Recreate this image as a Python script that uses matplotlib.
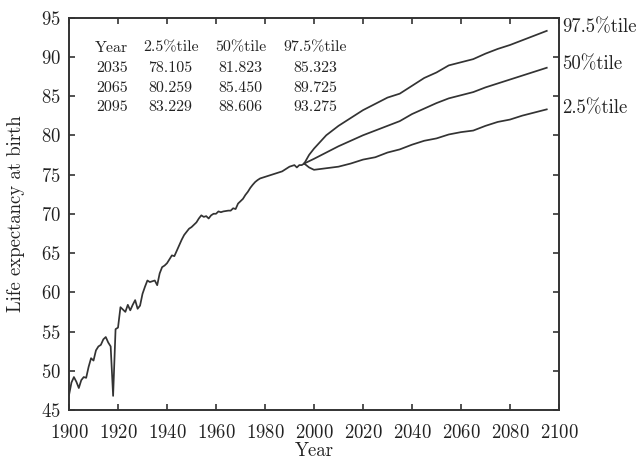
import matplotlib
matplotlib.use("Agg")
import matplotlib.pyplot as plt

plt.rcParams['font.family'] = ['cmr10', 'DejaVu Serif']
plt.rcParams['mathtext.fontset'] = 'cm'
plt.rcParams['axes.formatter.use_mathtext'] = True

# Historical life expectancy at birth
hist_years = list(range(1900, 1997))
hist_values = [46.9, 48.5, 49.2, 48.6, 47.8, 48.8, 49.2, 49.1, 50.5, 51.6,
               51.3, 52.6, 53.1, 53.3, 54.0, 54.3, 53.6, 53.1, 46.8, 55.3,
               55.5, 58.1, 57.8, 57.5, 58.4, 57.7, 58.4, 59.0, 57.9, 58.3,
               59.8, 60.7, 61.5, 61.3, 61.4, 61.5, 60.9, 62.4, 63.2, 63.4,
               63.7, 64.2, 64.7, 64.6, 65.3, 66.0, 66.7, 67.3, 67.7, 68.1,
               68.3, 68.6, 68.9, 69.4, 69.8, 69.6, 69.7, 69.4, 69.8, 70.0,
               70.0, 70.3, 70.2, 70.3, 70.35, 70.4, 70.4, 70.7, 70.6, 71.3,
               71.6, 71.9, 72.4, 72.8, 73.3, 73.7, 74.05, 74.3, 74.5, 74.6,
               74.7, 74.8, 74.9, 75.0, 75.1, 75.2, 75.3, 75.4, 75.6, 75.8,
               76.0, 76.1, 76.2, 75.9, 76.2, 76.2, 76.4]

# Forecast percentiles
fc_years = [1996, 1998, 2000, 2005, 2010, 2015, 2020, 2025, 2030, 2035, 2040,
            2045, 2050, 2055, 2060, 2065, 2070, 2075, 2080, 2085, 2090, 2095]
p975 = [76.4, 77.5, 78.3, 80.0, 81.2, 82.2, 83.2, 84.0, 84.8, 85.3, 86.3,
        87.3, 88.0, 88.9, 89.3, 89.7, 90.4, 91.0, 91.5, 92.1, 92.7, 93.3]
p50 = [76.4, 76.7, 77.0, 77.8, 78.6, 79.3, 80.0, 80.6, 81.2, 81.8, 82.7,
       83.4, 84.1, 84.7, 85.1, 85.5, 86.1, 86.6, 87.1, 87.6, 88.1, 88.6]
p025 = [76.4, 75.9, 75.6, 75.8, 76.0, 76.4, 76.9, 77.2, 77.8, 78.2, 78.8,
        79.3, 79.6, 80.1, 80.4, 80.6, 81.2, 81.7, 82.0, 82.5, 82.9, 83.3]

table_header = ["Year", "2.5%tile", "50%tile", "97.5%tile"]
table_rows = [["2035", "78.105", "81.823", "85.323"],
              ["2065", "80.259", "85.450", "89.725"],
              ["2095", "83.229", "88.606", "93.275"]]

series_labels = ["97.5%tile", "50%tile", "2.5%tile"]
series_label_y = [93.7, 89.0, 83.5]

xticks = list(range(1900, 2101, 20))
yticks = list(range(45, 96, 5))

fig = plt.figure(figsize=(6.42, 4.61), dpi=100)
ax = fig.add_axes([0.1075, 0.1106, 0.7632, 0.8514])

lc = '#333333'
for xs, ys in [(hist_years, hist_values), (fc_years, p975),
               (fc_years, p50), (fc_years, p025)]:
    ax.plot(xs, ys, color=lc, lw=1.25)

ax.set_xlim(1900, 2100)
ax.set_ylim(45, 95)
ax.set_xticks(xticks)
ax.set_yticks(yticks)
ax.tick_params(direction='in', top=True, right=True, length=4, width=1.2,
               labelsize=13.5, colors='#333333', labelcolor='#222222')
ax.tick_params(axis='x', pad=10)
ax.tick_params(axis='y', pad=6)
for s in ax.spines.values():
    s.set_linewidth(1.4)
    s.set_color('#333333')

ax.set_xlabel("Year", fontsize=13.5, color='#222222', labelpad=0)
ax.set_ylabel("Life expectancy at birth", fontsize=13.5, color='#222222', labelpad=11)

col_x = [1917.5, 1941.5, 1970.0, 2000.5]
row_y = [91.15, 88.6, 86.05, 83.6]
for cx, txt in zip(col_x, table_header):
    ax.text(cx, row_y[0], txt, ha='center', va='center', fontsize=11.5, color='#222222')
for ri, row in enumerate(table_rows):
    for cx, txt in zip(col_x, row):
        ax.text(cx, row_y[ri + 1], txt, ha='center', va='center', fontsize=11.5, color='#222222')

for lab, yy in zip(series_labels, series_label_y):
    ax.text(2101.3, yy, lab, ha='left', va='center', fontsize=13.5,
            color='#222222', clip_on=False)

fig.savefig("out.png", dpi=100, facecolor='white')
